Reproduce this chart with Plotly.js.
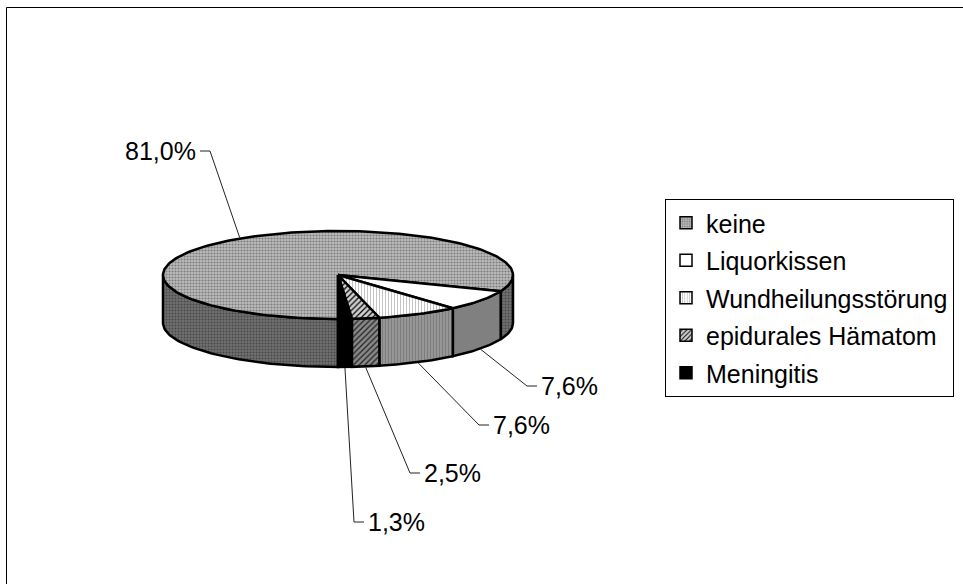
<!DOCTYPE html>
<html><head><meta charset="utf-8">
<script src="https://cdn.plot.ly/plotly-3.0.1.min.js"></script>
<style>html,body{margin:0;padding:0;background:#fff}#chart{width:963px;height:584px}</style>
</head><body><div id="chart"></div>
<script>
// ---- data ----
const categories = ['keine', 'Liquorkissen', 'Wundheilungsstörung', 'epidurales Hämatom', 'Meningitis'];
const counts = [64, 6, 6, 2, 1];
const pctLabels = ['81,0%', '7,6%', '7,6%', '2,5%', '1,3%'];

// ---- layout / style constants ----
const W = 963, H = 584;
const CX = 338, CY = 275, RX = 175, RY = 44, DEPTH = 48;
const START = -90; // first slice begins at 6 o'clock, runs clockwise
const FONT = 'Liberation Sans, Arial, sans-serif';
const FS = 25;

const topStyle = [
  {color: '#b0b0b0', pat: {shape: '.', bgcolor: '#bcbcbc', fgcolor: '#7c7c7c', size: 3, solidity: 0.4}},
  {color: '#ffffff', pat: null},
  {color: '#e8e8e8', pat: {shape: '|', bgcolor: '#ffffff', fgcolor: '#bdbdbd', size: 3, solidity: 0.3}},
  {color: '#a0a0a0', pat: {shape: '/', bgcolor: '#d0d0d0', fgcolor: '#000000', size: 4, solidity: 0.3}},
  {color: '#000000', pat: null}
];
const sideStyle = [
  {color: '#686868', pat: {shape: '.', bgcolor: '#707070', fgcolor: '#484848', size: 3, solidity: 0.35}},
  {color: '#808080', pat: null},
  {color: '#8c8c8c', pat: {shape: '|', bgcolor: '#969696', fgcolor: '#7a7a7a', size: 3, solidity: 0.3}},
  {color: '#707070', pat: {shape: '/', bgcolor: '#8a8a8a', fgcolor: '#202020', size: 4, solidity: 0.3}},
  {color: '#000000', pat: null}
];
// label placement: elbow point of leader, text anchor side
const labelLayout = [
  {ex: 210, ey: 151, dir: -1},
  {ex: 527, ey: 386, dir: 1},
  {ex: 479, ey: 425, dir: 1},
  {ex: 410, ey: 473, dir: 1},
  {ex: 354, ey: 522, dir: 1}
];

const rad = d => d * Math.PI / 180;
function pt(a, dy) { return [CX + RX * Math.cos(rad(a)), CY - RY * Math.sin(rad(a)) + dy]; }
function arc(a, b, dy) {
  const n = Math.max(2, Math.ceil(Math.abs(b - a) / 1.5));
  const pts = [];
  for (let i = 0; i <= n; i++) pts.push(pt(a + (b - a) * i / n, dy));
  return pts;
}
function fillTrace(pts, st, w) {
  const t = {
    type: 'scatter', mode: 'lines', x: pts.map(p => p[0]), y: pts.map(p => p[1]),
    fill: 'toself', fillcolor: st.color, line: {color: '#000', width: w || 2},
    hoverinfo: 'skip', showlegend: false
  };
  if (st.pat) t.fillpattern = Object.assign({fillmode: 'replace'}, st.pat);
  return t;
}

const total = counts.reduce((s, v) => s + v, 0);
const slices = [];
let cum = 0;
counts.forEach((v, i) => {
  const hi = START - cum / total * 360;
  const lo = START - (cum + v) / total * 360;
  slices.push({lo, hi, i});
  cum += v;
});

const sides = [], tops = [], leaders = [];
const annotations = [];
slices.forEach(s => {
  [-720, -360, 0, 360].forEach(k => {
    const a = Math.max(s.lo + k, -180), b = Math.min(s.hi + k, 0);
    if (b > a) {
      const pts = arc(a, b, 0).concat(arc(b, a, DEPTH));
      pts.push(pts[0]);
      sides.push(fillTrace(pts, sideStyle[s.i], 2.5));
    }
  });
  const tp = [[CX, CY]].concat(arc(s.hi, s.lo, 0));
  tp.push([CX, CY]);
  tops.push(fillTrace(tp, topStyle[s.i], 2.5));

  const mid = (s.lo + s.hi) / 2;
  const front = Math.sin(rad(mid)) < 0;
  const p0 = pt(mid, front ? DEPTH + 1 : -1);
  const L = labelLayout[s.i];
  const p2 = [L.ex + 10 * L.dir, L.ey];
  leaders.push({
    type: 'scatter', mode: 'lines', x: [p0[0], L.ex, p2[0]], y: [p0[1], L.ey, p2[1]],
    line: {color: '#222', width: 1}, hoverinfo: 'skip', showlegend: false
  });
  annotations.push({
    x: p2[0] + 2 * L.dir, y: L.ey, xref: 'x', yref: 'y', text: pctLabels[s.i],
    showarrow: false, xanchor: L.dir > 0 ? 'left' : 'right', yanchor: 'middle',
    font: {family: FONT, size: FS, color: '#000'}
  });
});

// legend entries (empty off-screen bars carrying the patterns)
const legendTraces = categories.map((c, i) => {
  const st = topStyle[i];
  const m = {color: st.color, line: {color: '#000', width: 1.5}};
  if (st.pat) m.pattern = {shape: st.pat.shape, bgcolor: st.pat.bgcolor, fgcolor: st.pat.fgcolor, size: st.pat.size, solidity: st.pat.solidity, fillmode: 'replace'};
  return {type: 'bar', name: c, x: [-1000], y: [0], marker: m, hoverinfo: 'skip', showlegend: true, legendgroup: 'g' + i};
});

const data = sides.concat(tops, leaders, legendTraces);

const layout = {
  width: W, height: H, margin: {l: 0, r: 0, t: 0, b: 0},
  paper_bgcolor: '#fff', plot_bgcolor: '#fff',
  xaxis: {range: [0, W], visible: false, fixedrange: true},
  yaxis: {range: [H, 0], visible: false, fixedrange: true},
  showlegend: true,
  legend: {
    x: 665 / W, y: 1 - 199 / H, xanchor: 'left', yanchor: 'top',
    bordercolor: '#000', borderwidth: 1, bgcolor: '#fff',
    font: {family: FONT, size: FS, color: '#000'},
    traceorder: 'grouped', tracegroupgap: 2, itemwidth: 30, itemclick: false, itemdoubleclick: false
  },
  annotations: annotations,
  shapes: [{type: 'rect', xref: 'x', yref: 'y', x0: 6.5, y0: 7.5, x1: 975, y1: 600, line: {color: '#000', width: 1}}],
  font: {family: FONT}
};

Plotly.newPlot('chart', data, layout, {displayModeBar: false, staticPlot: true});
</script>
</body></html>
